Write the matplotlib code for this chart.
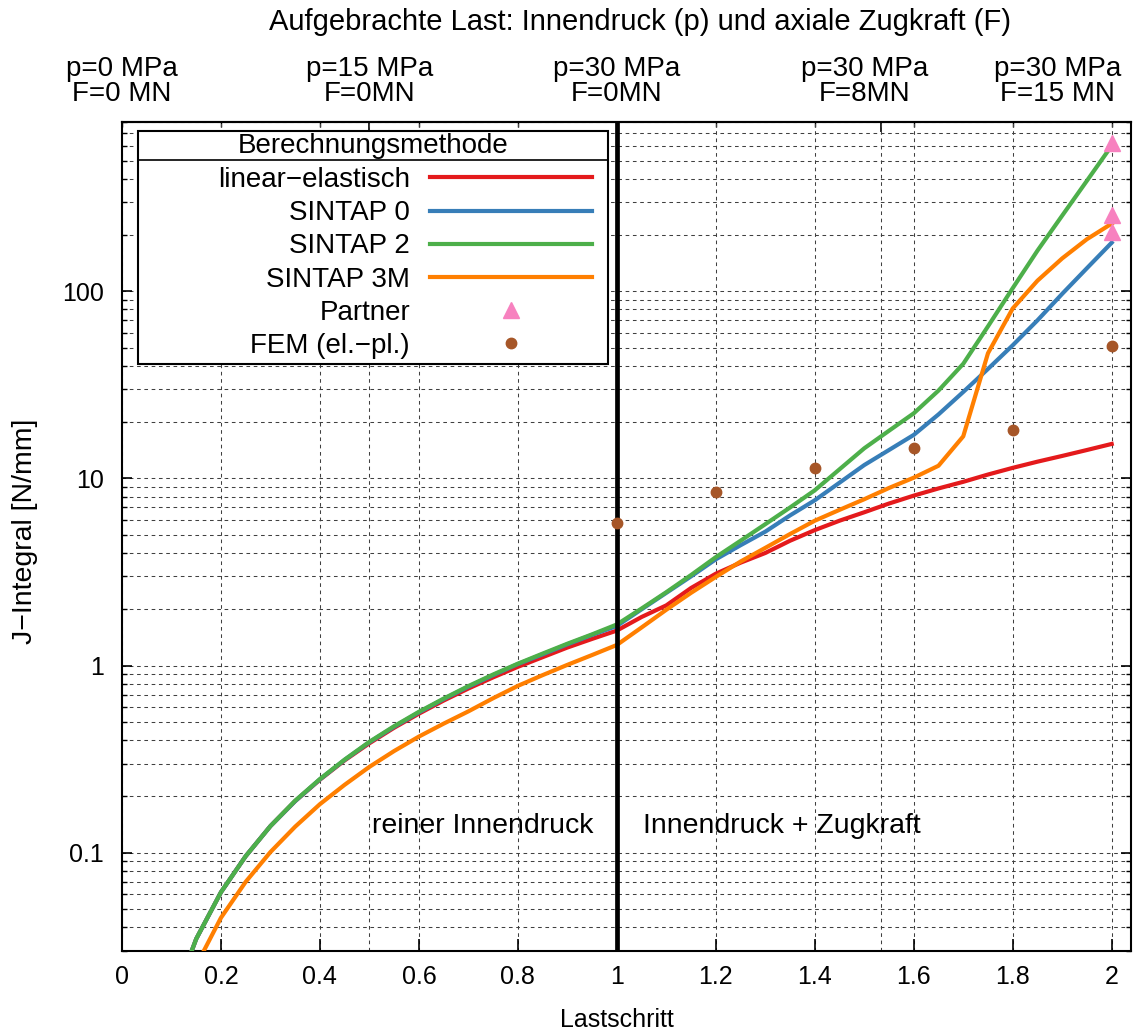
import matplotlib
matplotlib.use("Agg")
import matplotlib.pyplot as plt
from matplotlib.lines import Line2D
from matplotlib.patches import Rectangle
from matplotlib.ticker import FixedLocator, LogLocator, NullFormatter, FuncFormatter

plt.rcParams['font.family'] = ['Liberation Sans', 'DejaVu Sans']

# load step (0..1: internal pressure, 1..2: pressure + axial tension)
lastschritt = [0.10, 0.15, 0.20, 0.25, 0.30, 0.35, 0.40, 0.45, 0.50, 0.55,
               0.60, 0.65, 0.70, 0.75, 0.80, 0.85, 0.90, 0.95, 1.00, 1.05,
               1.10, 1.15, 1.20, 1.25, 1.30, 1.35, 1.40, 1.45, 1.50, 1.55,
               1.60, 1.65, 1.70, 1.75, 1.80, 1.85, 1.90, 1.95, 2.00]

j_linear_elastisch = [0.0154, 0.0347, 0.0616, 0.096, 0.139, 0.189, 0.246, 0.312, 0.385, 0.466,
                      0.554, 0.651, 0.755, 0.866, 0.986, 1.11, 1.25, 1.39, 1.54, 1.82,
                      2.1, 2.6, 3.1, 3.55, 4.0, 4.65, 5.3, 5.95, 6.6, 7.35,
                      8.1, 8.85, 9.6, 10.5, 11.4, 12.3, 13.2, 14.2, 15.3]

j_sintap0 = [0.0154, 0.0347, 0.0616, 0.096, 0.139, 0.189, 0.247, 0.314, 0.39, 0.472,
             0.563, 0.663, 0.772, 0.89, 1.02, 1.15, 1.30, 1.46, 1.63, 2.0,
             2.45, 3.0, 3.7, 4.4, 5.2, 6.35, 7.65, 9.5, 11.8, 14.2,
             17.1, 22.0, 29.0, 38.5, 51.5, 70.0, 97.0, 133.0, 182.0]

j_sintap2 = [0.0154, 0.0347, 0.0616, 0.096, 0.139, 0.19, 0.248, 0.315, 0.392, 0.475,
             0.567, 0.667, 0.778, 0.897, 1.025, 1.16, 1.31, 1.47, 1.66, 2.02,
             2.47, 3.05, 3.8, 4.65, 5.7, 7.0, 8.65, 11.2, 14.5, 18.0,
             22.3, 29.5, 41.0, 65.0, 104.0, 165.0, 254.0, 390.0, 600.0]

j_sintap3m = [0.011, 0.025, 0.045, 0.070, 0.101, 0.138, 0.182, 0.231, 0.288, 0.35,
              0.418, 0.49, 0.57, 0.67, 0.78, 0.89, 1.01, 1.14, 1.29, 1.6,
              1.99, 2.45, 2.98, 3.6, 4.26, 5.05, 5.95, 6.8, 7.75, 8.9,
              10.1, 11.7, 16.8, 46.7, 81.0, 114.0, 150.0, 190.0, 230.0]

partner_x = [2.0, 2.0, 2.0]
partner_j = [622.0, 255.0, 208.0]

fem_x = [1.0, 1.2, 1.4, 1.6, 1.8, 2.0]
fem_j = [5.8, 8.5, 11.4, 14.6, 18.1, 51.0]

x_ticks = [0, 0.2, 0.4, 0.6, 0.8, 1.0, 1.2, 1.4, 1.6, 1.8, 2.0]
y_ticks = [0.1, 1, 10, 100]

# secondary (top) axis: load states
last_pos = [0.0, 0.5, 1.0, 1.0 + 8.0 / 15.0, 2.0]
last_p = ["p=0 MPa", "p=15 MPa", "p=30 MPa", "p=30 MPa", "p=30 MPa"]
last_f = ["F=0 MN", "F=0MN", "F=0MN", "F=8MN", "F=15 MN"]
last_text_x = [0.0, 0.5, 1.0, 1.5, 1.89]

colors = {
    "red": "#e41a1c", "blue": "#377eb8", "green": "#4daf4a",
    "orange": "#ff7f00", "pink": "#f781bf", "brown": "#a65628",
}

W, H = 1134, 1034
fig = plt.figure(figsize=(W / 100, H / 100), dpi=100)
ax = fig.add_axes([0.10758, 0.08056, 0.89021, 0.80116])


def fx(px):
    return px / W


def fy(py):
    return 1 - py / H


lw = 3.0
ax.plot(lastschritt, j_linear_elastisch, color=colors["red"], lw=lw, label="linear\u2212elastisch", zorder=3)
ax.plot(lastschritt, j_sintap0, color=colors["blue"], lw=lw, label="SINTAP 0", zorder=3)
ax.plot(lastschritt, j_sintap2, color=colors["green"], lw=lw, label="SINTAP 2", zorder=3)
ax.plot(lastschritt, j_sintap3m, color=colors["orange"], lw=lw, label="SINTAP 3M", zorder=3)
ax.plot(partner_x, partner_j, linestyle="none", marker="^", ms=12, color=colors["pink"],
        label="Partner", zorder=6)
ax.plot(fem_x, fem_j, linestyle="none", marker="o", ms=7.5, color=colors["brown"],
        label="FEM (el.\u2212pl.)", zorder=6)

# boundary between pure pressure and pressure + tension
ax.axvline(1.0, color="black", lw=3.4, zorder=4)

ax.set_yscale("log")
ax.set_xlim(0, 2.04)
ax.set_ylim(0.03, 800)

ax.xaxis.set_major_locator(FixedLocator(x_ticks))
ax.xaxis.set_major_formatter(FuncFormatter(lambda v, p: "%g" % v))
ax.xaxis.set_minor_locator(FixedLocator(last_pos))
ax.yaxis.set_major_locator(FixedLocator(y_ticks))
ax.yaxis.set_major_formatter(FuncFormatter(lambda v, p: "%g" % v))
ax.yaxis.set_minor_locator(LogLocator(base=10, subs=range(2, 10)))
ax.yaxis.set_minor_formatter(NullFormatter())

grid_kw = dict(color="0.25", lw=0.75, linestyle=(0, (3.5, 3.5)))
ax.grid(True, which="both", axis="y", **grid_kw)
ax.grid(True, which="both", axis="x", **grid_kw)
ax.set_axisbelow(True)

ax.tick_params(axis="x", which="major", direction="in", length=8.6, width=1.2,
               labelsize=18, pad=10, top=False, bottom=True)
ax.tick_params(axis="x", which="minor", bottom=False, top=False)
ax.tick_params(axis="y", which="major", direction="in", length=7.2, width=1.2,
               labelsize=18, pad=13, left=True, right=True)
ax.tick_params(axis="y", which="minor", direction="in", length=3.6, width=1.0,
               left=True, right=True)
for s in ax.spines.values():
    s.set_linewidth(1.5)

top = ax.secondary_xaxis("top")
top.xaxis.set_major_locator(FixedLocator(x_ticks))
top.xaxis.set_minor_locator(FixedLocator(last_pos))
top.tick_params(axis="x", which="major", direction="in", length=3.6, width=1.0, labeltop=False)
top.tick_params(axis="x", which="minor", direction="in", length=7.2, width=1.2)
top.spines["top"].set_linewidth(1.5)

for xp, tp, tf in zip(last_text_x, last_p, last_f):
    ax.annotate(tp, xy=(xp, 1.0), xycoords=("data", "axes fraction"),
                xytext=(0, 53), textcoords="offset pixels",
                ha="center", va="center", fontsize=20, annotation_clip=False)
    ax.annotate(tf, xy=(xp, 1.0), xycoords=("data", "axes fraction"),
                xytext=(0, 28), textcoords="offset pixels",
                ha="center", va="center", fontsize=20, annotation_clip=False)

fig.text(fx(640), fy(22), "Aufgebrachte Last: Innendruck (p) und axiale Zugkraft (F)",
         ha="center", va="center", fontsize=21)
fig.text(fx(617), fy(1020), "Lastschritt", ha="center", va="center", fontsize=18)
fig.text(fx(25), fy(531), "J\u2212Integral [N/mm]", ha="center", va="center",
         rotation=90, fontsize=20.5)

ax.text(0.505, 0.139, "reiner Innendruck", ha="left", va="center", fontsize=20.5)
ax.text(1.053, 0.139, "Innendruck + Zugkraft", ha="left", va="center", fontsize=20.5)

# legend box with title and separating rule
box_l, box_r, box_t, box_b = 138, 608, 131, 364
ax.add_patch(Rectangle((fx(box_l), fy(box_b)), fx(box_r) - fx(box_l), fy(box_t) - fy(box_b),
                       transform=fig.transFigure, facecolor="white", edgecolor="black",
                       lw=1.5, zorder=8, clip_on=False))
ax.add_line(Line2D([fx(box_l), fx(box_r)], [fy(160), fy(160)], transform=fig.transFigure,
                   color="black", lw=1.2, zorder=9, clip_on=False))
ax.text(fx((box_l + box_r) / 2), fy(146), "Berechnungsmethode", transform=fig.transFigure,
        ha="center", va="center", fontsize=20, zorder=11)

# legend handles; entry labels are drawn right-aligned next to them
leg = ax.legend(loc="upper left", bbox_to_anchor=(fx(430), fy(162)),
                bbox_transform=fig.transFigure, borderaxespad=0, borderpad=0,
                fontsize=20, markerfirst=True, handlelength=5.83, handletextpad=0.5,
                labelspacing=0.26, numpoints=1, frameon=False)
leg.set_zorder(10)
for t in leg.get_texts():
    t.set_color("none")

fig.canvas.draw()
renderer = fig.canvas.get_renderer()
first = leg.get_texts()[0].get_window_extent(renderer)
dy = (H - 180) - (first.y0 + first.y1) / 2
leg.set_bbox_to_anchor((fx(430), fy(162) + dy / H), transform=fig.transFigure)
fig.canvas.draw()

for t in leg.get_texts():
    bb = t.get_window_extent(renderer)
    yc = (bb.y0 + bb.y1) / 2 / H
    ax.text(fx(410), yc, t.get_text(), transform=fig.transFigure,
            ha="right", va="center", fontsize=20, zorder=11)

fig.savefig("out.png", dpi=100)
